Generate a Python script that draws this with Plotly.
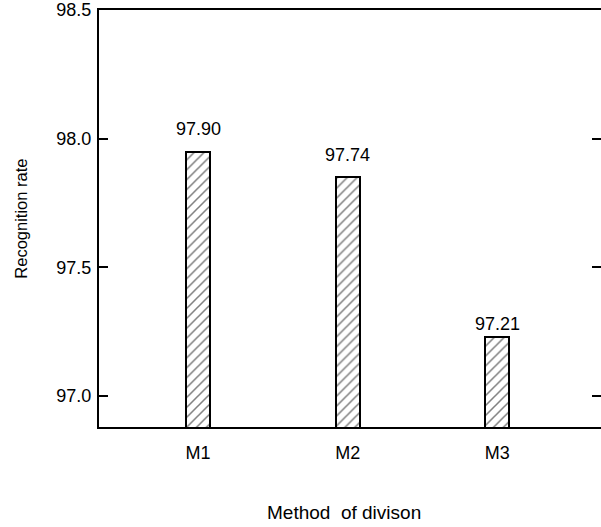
import plotly.graph_objects as go

categories = ["M1", "M2", "M3"]
bar_values = [97.95, 97.85, 97.23]
bar_labels = ["97.90", "97.74", "97.21"]
y_tick_vals = [97.0, 97.5, 98.0, 98.5]
y_tick_text = ["97.0", "97.5", "98.0", "98.5"]
x_title = "Method\u00a0 of divison"
y_title = "Recognition rate"

FONT = "Liberation Sans, Arial, Helvetica, sans-serif"

fig = go.Figure()
fig.add_trace(go.Bar(
    x=categories, y=bar_values, width=0.16,
    marker=dict(color="white", line=dict(color="black", width=2),
                pattern=dict(shape="/", fgcolor="black", bgcolor="white",
                             size=7, solidity=0.22)),
    showlegend=False, hoverinfo="skip",
))
# invisible companion trace so the right-hand (mirrored tick) axis is drawn
fig.add_trace(go.Scatter(
    x=categories, y=bar_values, yaxis="y2", mode="markers",
    marker=dict(opacity=0), showlegend=False, hoverinfo="skip",
))

label_shift = [23, 22, 13]
for c, v, t, s in zip(categories, bar_values, bar_labels, label_shift):
    fig.add_annotation(x=c, y=v, text=t, showarrow=False, yanchor="middle",
                       yshift=s, font=dict(size=18, color="black", family=FONT))

fig.add_annotation(x=0.488, y=-0.204, xref="paper", yref="paper", text=x_title,
                   showarrow=False, xanchor="center", yanchor="middle",
                   font=dict(size=19, color="black", family=FONT))
fig.add_annotation(x=-0.157, y=0.5, xref="paper", yref="paper", text=y_title,
                   showarrow=False, textangle=-90, xanchor="center", yanchor="middle",
                   font=dict(size=16.5, color="black", family=FONT))

fig.update_layout(
    width=601, height=527,
    margin=dict(l=99, r=0, t=10, b=100, autoexpand=False),
    plot_bgcolor="white", paper_bgcolor="white",
    font=dict(family=FONT, color="black", size=18),
    bargap=0,
    xaxis=dict(range=[-0.662, 2.693], showline=True, mirror=True, linecolor="black",
               linewidth=2, ticks="", showgrid=False, zeroline=False, automargin=False,
               tickfont=dict(size=18), ticklabelstandoff=8),
    yaxis=dict(range=[96.88, 98.5], tickvals=y_tick_vals, ticktext=y_tick_text,
               ticks="inside", ticklen=9, tickwidth=1.5, tickcolor="black",
               showline=True, linecolor="black", linewidth=2, showgrid=False,
               zeroline=False, automargin=False, tickfont=dict(size=18),
               ticklabelstandoff=2),
    yaxis2=dict(overlaying="y", matches="y", side="right",
                tickvals=y_tick_vals, ticks="inside", ticklen=9, tickwidth=1.5,
                tickcolor="black", showticklabels=False, showline=False,
                showgrid=False, zeroline=False, automargin=False),
)

fig.write_html("out.html", config={"displayModeBar": False})

# remove the browser's default page margin so the figure fills the window exactly
with open("out.html", "r", encoding="utf-8") as f:
    html = f.read()
html = html.replace("<head>", "<head><style>html,body{margin:0;padding:0;overflow:hidden;}</style>", 1)
with open("out.html", "w", encoding="utf-8") as f:
    f.write(html)
